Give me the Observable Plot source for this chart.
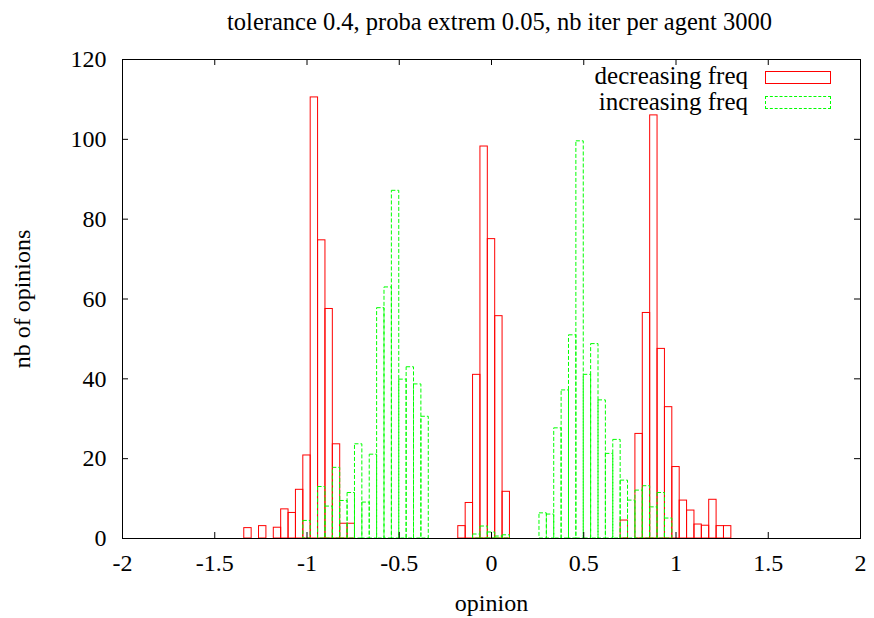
<!DOCTYPE html>
<html>
<head>
<meta charset="utf-8">
<script src="https://cdn.jsdelivr.net/npm/d3@7"></script>
<script src="https://cdn.jsdelivr.net/npm/@observablehq/plot@0.6"></script>
<style>
  html, body { margin: 0; padding: 0; background: white; }
  #wrap { position: relative; width: 874px; height: 618px; font-family: "Liberation Serif", serif; }
  .leg { position: absolute; font-size: 25px; line-height: 25px; color: black; white-space: nowrap; }
  .box { position: absolute; box-sizing: border-box; }
</style>
</head>
<body>
<div id="wrap"></div>
<script>
// bin centres (opinion) and counts
const binWidth = 0.04;
const decreasingX = [-1.32,-1.24,-1.16,-1.12,-1.08,-1.04,-1.00,-0.96,-0.92,-0.88,-0.84,-0.80,-0.76,
  -0.16,-0.12,-0.08,-0.04,0.00,0.04,0.08,
  0.72,0.80,0.84,0.88,0.92,0.96,1.00,1.04,1.08,1.12,1.16,1.20,1.24,1.28];
const decreasingY = [2.6,3.1,2.7,7.3,6.4,12.2,20.8,110.5,74.7,57.5,23.6,3.7,3.7,
  3.1,8.9,41,98.2,75,55.7,11.7,
  4.5,26.2,56.5,106,47.5,32.9,17.9,9.5,7.0,3.5,3.2,9.7,3.1,3.1];
const increasingX = [-1.00,-0.92,-0.88,-0.84,-0.80,-0.76,-0.72,-0.68,-0.64,-0.60,-0.56,-0.52,-0.48,-0.44,-0.40,-0.36,
  -0.08,-0.04,0.00,0.04,0.08,
  0.28,0.32,0.36,0.40,0.44,0.48,0.52,0.56,0.60,0.64,0.68,0.72,0.76,0.80,0.84,0.88,0.92,0.96];
const increasingY = [4.4,12.9,8.0,17.7,9.4,11.4,23.6,9.0,21.0,57.7,62.9,87.1,39.8,42.9,38.6,30.5,
  1.0,3.0,1.5,0.5,0.8,
  6.3,6.0,27.6,37.1,50.9,99.5,41,48.7,34.6,21.2,24.7,14.5,9.5,12.0,13.1,7.8,11.4,5.0];
const xTicks = [-2,-1.5,-1,-0.5,0,0.5,1,1.5,2];
const yTicks = [0,20,40,60,80,100,120];
const seriesNames = ["decreasing freq", "increasing freq"];
const titleText = "tolerance 0.4, proba extrem 0.05, nb iter per agent 3000";
const xLabel = "opinion";
const yLabel = "nb of opinions";

const decreasing = decreasingX.map((x, i) => ({x, v: decreasingY[i]}));
const increasing = increasingX.map((x, i) => ({x, v: increasingY[i]}));

const W = 874, H = 618, mL = 122, mR = 14, mT = 59, mB = 80;
const pw = W - mL - mR, ph = H - mT - mB, tick = 6;

const chart = Plot.plot({
  width: W, height: H,
  marginLeft: mL, marginRight: mR, marginTop: mT, marginBottom: mB,
  style: {fontFamily: "Liberation Serif", fontSize: "24px", background: "white", color: "black", overflow: "visible"},
  x: {domain: [-2, 2]},
  y: {domain: [0, 120]},
  marks: [
    Plot.rectY(decreasing, {x1: d => d.x - binWidth/2, x2: d => d.x + binWidth/2, y: "v", fill: "none", stroke: "#ff0000", strokeWidth: 1}),
    Plot.rectY(increasing, {x1: d => d.x - binWidth/2, x2: d => d.x + binWidth/2, y: "v", fill: "none", stroke: "#00ff00", strokeWidth: 1, strokeDasharray: "4,2"}),
    Plot.frame({stroke: "black"}),
    Plot.tickY(yTicks, {y: d => d, insetRight: pw - tick, stroke: "black"}),
    Plot.tickY(yTicks, {y: d => d, insetLeft: pw - tick, stroke: "black"}),
    Plot.tickX(xTicks, {x: d => d, insetTop: ph - tick, stroke: "black"}),
    Plot.tickX(xTicks, {x: d => d, insetBottom: ph - tick, stroke: "black"}),
    Plot.axisX({ticks: xTicks, tickFormat: d => String(d), tickSize: 0, tickPadding: 15, label: null, fontSize: 24}),
    Plot.axisY({ticks: yTicks, tickFormat: d => String(d), tickSize: 0, tickPadding: 16, label: null, fontSize: 24}),
    Plot.text([titleText], {frameAnchor: "top", dx: 8, dy: -37, lineAnchor: "middle", textAnchor: "middle", fontSize: 24.5, fill: "black"}),
    Plot.text([xLabel], {frameAnchor: "bottom", dy: 65, lineAnchor: "middle", textAnchor: "middle", fontSize: 24, fill: "black"}),
    Plot.text([yLabel], {frameAnchor: "left", dx: -100, rotate: -90, lineAnchor: "middle", textAnchor: "middle", fontSize: 24, fill: "black"})
  ]
});
const wrap = document.getElementById("wrap");
wrap.appendChild(chart);

// legend (inside the plot, top right)
const legend = [
  {name: seriesNames[0], top: 63, boxTop: 71, border: "1px solid #ff0000"},
  {name: seriesNames[1], top: 89, boxTop: 96, border: "1px dashed #00ff00"}
];
for (const l of legend) {
  const t = document.createElement("div");
  t.className = "leg";
  t.textContent = l.name;
  t.style.right = (W - 748) + "px";
  t.style.top = l.top + "px";
  wrap.appendChild(t);
  const b = document.createElement("div");
  b.className = "box";
  b.style.left = "765px";
  b.style.top = l.boxTop + "px";
  b.style.width = "66px";
  b.style.height = "13px";
  b.style.border = l.border;
  wrap.appendChild(b);
}
</script>
</body>
</html>
